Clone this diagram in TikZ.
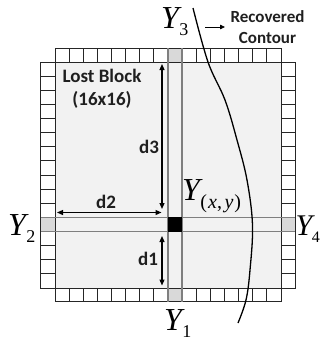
\documentclass[tikz,border=0pt]{standalone}
\usepackage{fontspec}
\setmainfont{Carlito}
\newfontfamily\tms{Liberation Serif}
\usetikzlibrary{arrows.meta}
\newcommand\ylab[2][0.5pt]{{\fontsize{32}{32}\selectfont\tms\itshape Y}\kern#1\raisebox{-7.5pt}{\fontsize{18}{18}\selectfont\tms #2}}
\definecolor{blockfill}{HTML}{F2F2F2}
\definecolor{ycell}{HTML}{D9D9D9}
\definecolor{stripline}{HTML}{7F7F7F}
\tikzset{
  cellbox/.style={draw=black!85, fill=white, line width=0.9pt},
  ybox/.style={draw=black!85, fill=ycell, line width=0.9pt},
  dimarrow/.style={line width=1.2pt, {Triangle[length=6pt,width=5pt]}-{Triangle[length=6pt,width=5pt]}},
  lbl/.style={font=\fontsize{19}{20}\selectfont\bfseries, text=black!88, inner sep=0pt},
  contour/.style={line width=1.3pt},
  stripl/.style={draw=stripline, line width=1.3pt},
}
\begin{document}
\begin{tikzpicture}[x=1pt,y=-1pt]
\useasboundingbox (0,0) rectangle (320,340);
\def\s{14.125}
% inner block
\fill[blockfill] (55,62) rectangle (281,288);
% rows and columns of cells
\foreach \i in {0,...,15}{
  \pgfmathsetmacro\xa{55+\i*\s}
  \pgfmathsetmacro\xb{55+(\i+1)*\s}
  \ifnum\i=8
    \draw[ybox] (\xa,48.2) rectangle (\xb,62);
    \draw[ybox] (\xa,288) rectangle (\xb,301.8);
  \else
    \draw[cellbox] (\xa,48.2) rectangle (\xb,62);
    \draw[cellbox] (\xa,288) rectangle (\xb,301.8);
  \fi
  \pgfmathsetmacro\ya{62+\i*\s}
  \pgfmathsetmacro\yb{62+(\i+1)*\s}
  \ifnum\i=11
    \draw[ybox] (40.9,\ya) rectangle (55,\yb);
    \draw[ybox] (281,\ya) rectangle (295.1,\yb);
  \else
    \draw[cellbox] (40.9,\ya) rectangle (55,\yb);
    \draw[cellbox] (281,\ya) rectangle (295.1,\yb);
  \fi
}
% strips
\draw[stripl] (168,48.2) -- (168,301.8);
\draw[stripl] (182.125,48.2) -- (182.125,301.8);
\draw[stripl] (40.9,217.4) -- (295.1,217.4);
\draw[stripl] (40.9,231.5) -- (295.1,231.5);
\node[fill=black, minimum width=14.1pt, minimum height=14.1pt, inner sep=0pt] (pix) at (175.06,224.45) {};
% dimension arrows
\coordinate (d3a) at (162,64);
\coordinate (d3b) at (162,209);
\coordinate (d2a) at (57,212.5);
\coordinate (d2b) at (161.5,212.5);
\coordinate (d1a) at (162,236);
\coordinate (d1b) at (162,285.5);
\draw[dimarrow] (d3a) -- (d3b);
\draw[dimarrow] (d2a) -- (d2b);
\draw[dimarrow] (d1a) -- (d1b);
\node[lbl] (t3) at (149,147) {d3};
\node[lbl] (t2) at (106,202) {d2};
\node[lbl] (t1) at (148,259) {d1};
\node[lbl, align=center, font=\fontsize{19}{23}\selectfont\bfseries] (lost) at (102,88.5) {Lost Block\\(16x16)};
% contour
\draw[contour] plot[smooth, tension=0.6] coordinates {(193,8) (208,62) (225,100) (237,140) (247,180) (252.5,225) (250,270) (246,300) (238,323)};
\node[lbl, align=center, font=\fontsize{17}{21}\selectfont\bfseries] (rec) at (267.5,27.5) {Recovered\\Contour};
\coordinate (ra) at (205,27);
\coordinate (rb) at (225,27);
\draw[line width=0.8pt, -{Triangle[length=5pt,width=4.5pt]}] (ra) -- (rb);
% Y labels
\node[anchor=base west, inner sep=0pt] (y3) at (161,28) {\ylab{3}};
\node[anchor=base west, inner sep=0pt] (y1) at (164,330) {\ylab{1}};
\node[anchor=base west, inner sep=0pt] (y2) at (8,235) {\ylab{2}};
\node[anchor=base west, inner sep=0pt] (y4) at (295.5,235) {{\fontsize{30}{30}\selectfont\tms\itshape Y}\kern-0.5pt\raisebox{-7.5pt}{\fontsize{16}{16}\selectfont\tms 4}};
\node[anchor=base west, inner sep=0pt] (yxy) at (182,200) {{\fontsize{32}{32}\selectfont\tms\itshape Y}\kern0.5pt\raisebox{-8pt}{\fontsize{20}{20}\selectfont\tms(\kern1pt\itshape x\upshape,\kern2.5pt\itshape y\upshape\kern1pt)}};
\end{tikzpicture}
\end{document}
